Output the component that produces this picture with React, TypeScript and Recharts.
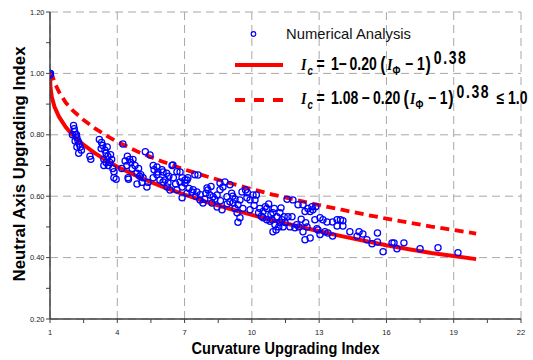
import React from 'react';
import { ComposedChart, XAxis, YAxis, CartesianGrid, Line, Scatter, Legend } from 'recharts';

const xMajorTicks = [1, 4, 7, 10, 13, 16, 19, 22];
const xTickLabels = ['1', '4', '7', '10', '13', '16', '19', '22'];
const xAllTicks = [1, 2.5, 4, 5.5, 7, 8.5, 10, 11.5, 13, 14.5, 16, 17.5, 19, 20.5, 22];
const yMajorTicks = [0.2, 0.4, 0.6, 0.8, 1.0, 1.2];
const yTickLabels = ['0.20', '0.40', '0.60', '0.80', '1.00', '1.20'];
const yAllTicks = [0.2, 0.3, 0.4, 0.5, 0.6, 0.7, 0.8, 0.9, 1.0, 1.1, 1.2];

const curveX = [1, 1.02, 1.08, 1.2, 1.4, 1.7, 2, 2.5, 3, 3.5, 4, 5, 6, 7, 8, 9, 10, 11, 12, 13, 14, 15, 16, 17, 18, 19, 20];
const proposedValues = [1.0, 0.955, 0.923, 0.891, 0.859, 0.825, 0.8, 0.767, 0.74, 0.717, 0.696, 0.661, 0.631, 0.605, 0.581, 0.559, 0.539, 0.52, 0.503, 0.486, 0.47, 0.455, 0.44, 0.427, 0.415, 0.405, 0.395];
const designValues = [1.0, 1.0, 1.0, 0.97, 0.94, 0.905, 0.88, 0.848, 0.821, 0.798, 0.777, 0.742, 0.713, 0.687, 0.664, 0.643, 0.623, 0.604, 0.587, 0.571, 0.556, 0.541, 0.527, 0.514, 0.501, 0.49, 0.478];

const numericalAnalysis: [number, number][] = [
  [1.0, 1.0], [1.02, 1.0], [1.0, 0.995],
  [2.05, 0.83], [2.08, 0.82], [2.1, 0.81], [2.0, 0.8], [2.15, 0.8], [2.2, 0.79], [2.12, 0.78], [2.25, 0.78],
  [2.3, 0.77], [2.2, 0.76], [2.35, 0.76], [2.4, 0.75], [2.28, 0.74], [2.18, 0.8], [2.78, 0.73], [2.82, 0.72],
  [3.2, 0.785], [3.3, 0.775], [3.35, 0.765], [3.28, 0.755], [3.45, 0.75], [3.5, 0.74], [3.58, 0.73], [3.4, 0.72],
  [3.5, 0.71], [3.67, 0.71], [3.75, 0.72], [3.6, 0.7], [3.4, 0.7], [3.8, 0.69], [3.85, 0.68], [3.85, 0.66],
  [3.95, 0.655], [3.7, 0.735], [3.55, 0.76], [4.25, 0.77], [4.2, 0.69], [4.35, 0.715],
  [4.45, 0.73], [4.55, 0.72], [4.43, 0.7], [4.66, 0.69], [4.79, 0.7], [4.88, 0.675], [5.0, 0.665], [4.48, 0.66],
  [4.88, 0.64], [5.1, 0.645], [5.15, 0.66], [5.25, 0.745], [5.32, 0.63], [5.37, 0.645], [4.6, 0.71], [4.7, 0.72],
  [4.95, 0.69], [4.5, 0.655], [5.05, 0.67], [5.6, 0.66],
  [5.46, 0.734], [5.6, 0.7], [5.64, 0.686], [5.77, 0.695], [5.81, 0.679], [5.77, 0.67], [5.99, 0.686], [6.04, 0.679],
  [5.9, 0.653], [6.13, 0.653], [6.04, 0.646], [6.26, 0.643], [6.22, 0.63], [6.35, 0.62], [6.44, 0.7], [6.48, 0.702],
  [6.66, 0.68], [6.66, 0.621], [6.8, 0.679], [6.8, 0.646], [6.89, 0.66], [6.89, 0.63], [7.02, 0.653], [7.02, 0.643],
  [7.11, 0.653], [7.15, 0.66], [6.5, 0.66], [6.3, 0.665], [6.6, 0.64], [6.2, 0.675],
  [7.46, 0.67], [7.6, 0.669], [6.89, 0.595], [7.11, 0.61], [7.33, 0.614], [7.38, 0.621], [7.55, 0.614], [7.5, 0.6],
  [7.69, 0.588], [7.82, 0.578], [7.9, 0.59], [8.0, 0.627], [8.04, 0.62], [8.13, 0.604], [8.18, 0.632], [8.22, 0.578],
  [8.27, 0.598], [8.45, 0.565], [8.45, 0.604], [8.58, 0.643], [8.58, 0.621], [8.67, 0.556], [8.71, 0.63], [8.8, 0.646],
  [8.89, 0.598], [9.02, 0.582], [9.02, 0.637], [9.1, 0.61], [9.16, 0.578], [9.25, 0.56], [9.25, 0.59], [9.34, 0.546],
  [9.38, 0.515], [9.38, 0.572], [9.47, 0.588], [9.47, 0.53], [9.56, 0.614], [9.6, 0.56],
  [7.2, 0.625], [7.7, 0.605], [7.95, 0.61], [8.35, 0.59], [8.6, 0.585], [8.9, 0.575], [9.15, 0.6],
  [9.78, 0.595], [9.8, 0.611], [9.72, 0.62], [9.92, 0.588], [9.92, 0.556], [10.05, 0.604], [10.14, 0.588], [10.2, 0.604],
  [10.36, 0.56], [10.3, 0.546], [10.42, 0.535], [10.5, 0.55], [10.6, 0.566], [10.67, 0.56], [10.67, 0.523], [10.75, 0.575],
  [10.81, 0.518], [10.85, 0.54], [10.9, 0.523], [10.94, 0.546], [10.94, 0.484], [11.03, 0.507], [11.08, 0.49], [11.12, 0.533],
  [11.2, 0.5], [11.25, 0.514], [11.25, 0.546], [11.3, 0.562], [11.34, 0.523], [11.39, 0.5], [11.44, 0.533], [11.48, 0.514],
  [11.57, 0.59], [11.61, 0.533], [11.7, 0.5], [11.79, 0.533], [11.83, 0.588], [10.1, 0.57], [10.5, 0.53], [11.0, 0.56],
  [11.92, 0.497], [12.0, 0.507], [12.06, 0.572], [12.1, 0.5], [12.28, 0.572], [12.28, 0.484], [12.37, 0.55], [12.46, 0.5],
  [12.4, 0.514], [12.5, 0.56], [12.6, 0.55], [12.6, 0.464], [12.68, 0.566], [12.72, 0.556], [12.81, 0.523], [12.85, 0.566],
  [12.9, 0.494], [12.95, 0.49], [13.04, 0.53], [13.04, 0.475], [13.17, 0.523], [13.26, 0.484], [13.35, 0.516], [13.39, 0.48],
  [13.6, 0.516], [13.6, 0.47], [13.8, 0.523], [13.8, 0.503], [13.95, 0.523], [14.06, 0.52], [14.06, 0.503], [12.37, 0.458],
  [12.2, 0.525],
  [14.37, 0.484], [14.69, 0.47], [14.78, 0.484], [14.95, 0.477], [15.13, 0.458], [15.36, 0.445], [15.6, 0.48],
  [15.6, 0.451], [15.85, 0.419], [16.25, 0.448], [16.34, 0.448], [16.47, 0.429], [16.78, 0.448], [17.5, 0.429],
  [18.3, 0.432], [19.19, 0.416],
];

const legendLabels = ['Numerical Analysis'];

const scatterData = numericalAnalysis.map(([x, y]) => ({ x, y }));
const proposedData = curveX.map((x, i) => ({ x, y: proposedValues[i] }));
const designData = curveX.map((x, i) => ({ x, y: designValues[i] }));

const tickFont = { fontFamily: 'Liberation Sans, Arial, sans-serif', fontSize: 7.5, fill: '#222' };

const XTick = (props: any) => {
  const { x, y, payload } = props;
  const i = xMajorTicks.indexOf(payload.value);
  if (i < 0) return <g />;
  return (
    <text x={x} y={y} dy="0.71em" textAnchor="middle" {...tickFont}>
      {xTickLabels[i]}
    </text>
  );
};

const YTick = (props: any) => {
  const { x, y, payload } = props;
  const i = yMajorTicks.indexOf(payload.value);
  if (i < 0) return <g />;
  return (
    <text x={x} y={y} dy="0.355em" textAnchor="end" {...tickFont}>
      {yTickLabels[i]}
    </text>
  );
};

const XTitle = (props: any) => {
  const vb = props.viewBox;
  return (
    <text
      x={vb.x + vb.width / 2}
      y={vb.y + 35}
      textAnchor="middle"
      fontFamily="Liberation Sans, Arial, sans-serif"
      fontWeight="bold"
      fontSize={16}
      textLength={188}
      lengthAdjust="spacingAndGlyphs"
      fill="#000"
    >
      Curvature Upgrading Index
    </text>
  );
};

const YTitle = (props: any) => {
  const vb = props.viewBox;
  const cx = 25;
  const cy = vb.y + vb.height / 2 - 1.5;
  return (
    <text
      x={cx}
      y={cy}
      transform={`rotate(-90 ${cx} ${cy})`}
      textAnchor="middle"
      fontFamily="Liberation Sans, Arial, sans-serif"
      fontWeight="bold"
      fontSize={16.5}
      textLength={235}
      lengthAdjust="spacingAndGlyphs"
      fill="#000"
    >
      Neutral Axis Upgrading Index
    </text>
  );
};

const eqFont = 'Liberation Sans, Arial, sans-serif';
const iFont = 'Liberation Serif, Times New Roman, serif';
const EQ = 17.5;
const SUB = 12;
const PAR = 20;

const renderLegend = () => (
  <svg width={533} height={120} style={{ display: 'block' }}>
    <circle cx={253.5} cy={34} r={2.3} fill="none" stroke="#0000ff" strokeWidth={1.2} />
    <text x={286} y={39} fontFamily={eqFont} fontSize={15} textLength={125} lengthAdjust="spacingAndGlyphs" fill="#111">
      {legendLabels[0]}
    </text>
    <line x1={235} y1={65} x2={283} y2={65} stroke="#ff0000" strokeWidth={4} />
    <g transform="translate(301 70) scale(0.8 1)">
      <text x={0} y={0} fontFamily={eqFont} fontWeight="bold" fontSize={EQ} fill="#000">
        <tspan x={0} fontFamily={iFont} fontStyle="italic">I</tspan>
        <tspan x={8.1} dy={5} fontSize={SUB} fontStyle="italic">c</tspan>
        <tspan x={19.4} dy={-5}>=</tspan>
        <tspan x={37.5}>1</tspan>
        <tspan x={47}>−</tspan>
        <tspan x={60.6}>0.20</tspan>
        <tspan x={99} dy={1} fontSize={PAR}>(</tspan>
        <tspan x={107.5} dy={-1} fontFamily={iFont} fontStyle="italic">I</tspan>
        <tspan x={114.4} dy={5} fontSize={SUB}>Φ</tspan>
        <tspan x={130} dy={-5}>−</tspan>
        <tspan x={145}>1</tspan>
        <tspan x={155.5} dy={1} fontSize={PAR}>)</tspan>
        <tspan x={166} dy={-7} letterSpacing={2}>0.38</tspan>
      </text>
    </g>
    <line x1={235} y1={100} x2={283} y2={100} stroke="#ff0000" strokeWidth={4} strokeDasharray="10 9" />
    <g transform="translate(301 104) scale(0.8 1)">
      <text x={0} y={0} fontFamily={eqFont} fontWeight="bold" fontSize={EQ} fill="#000">
        <tspan x={0} fontFamily={iFont} fontStyle="italic">I</tspan>
        <tspan x={8.1} dy={5} fontSize={SUB} fontStyle="italic">c</tspan>
        <tspan x={19.4} dy={-5}>=</tspan>
        <tspan x={37.5}>1.08</tspan>
        <tspan x={75.6}>−</tspan>
        <tspan x={90}>0.20</tspan>
        <tspan x={128} dy={1} fontSize={PAR}>(</tspan>
        <tspan x={136.3} dy={-1} fontFamily={iFont} fontStyle="italic">I</tspan>
        <tspan x={143.1} dy={5} fontSize={SUB}>Φ</tspan>
        <tspan x={158.8} dy={-5}>−</tspan>
        <tspan x={173.5}>1</tspan>
        <tspan x={184} dy={1} fontSize={PAR}>)</tspan>
        <tspan x={194.5} dy={-7} letterSpacing={2}>0.38</tspan>
        <tspan x={244.4} dy={6}>≤</tspan>
        <tspan x={258.8}>1.0</tspan>
      </text>
    </g>
  </svg>
);

export default function App() {
  return (
    <div style={{ position: 'absolute', left: 0, top: 0, width: 533, height: 360, overflow: 'hidden', background: '#fff' }}>
      <ComposedChart width={533} height={360} margin={{ top: 12, right: 12, bottom: 0, left: 0 }}>
        <CartesianGrid
          stroke="#a8a8a8"
          strokeDasharray="8 5"
          horizontalValues={yMajorTicks}
          verticalValues={xMajorTicks}
        />
        <XAxis
          type="number"
          dataKey="x"
          domain={[1, 22]}
          ticks={xAllTicks}
          interval={0}
          height={41}
          tickSize={4}
          tickMargin={7}
          tick={<XTick />}
          axisLine={{ stroke: '#404040', strokeWidth: 1.5 }}
          tickLine={{ stroke: '#404040' }}
          label={<XTitle />}
          allowDataOverflow
        />
        <YAxis
          type="number"
          dataKey="y"
          domain={[0.2, 1.2]}
          ticks={yAllTicks}
          interval={0}
          width={50}
          tickSize={4}
          tickMargin={1.5}
          tick={<YTick />}
          axisLine={{ stroke: '#404040', strokeWidth: 1.5 }}
          tickLine={{ stroke: '#404040' }}
          label={<YTitle />}
          allowDataOverflow
        />
        <Line
          data={proposedData}
          dataKey="y"
          type="linear"
          stroke="#ff0000"
          strokeWidth={4}
          dot={false}
          activeDot={false}
          isAnimationActive={false}
        />
        <Line
          data={designData}
          dataKey="y"
          type="linear"
          stroke="#ff0000"
          strokeWidth={3.8}
          strokeDasharray="9 5.5"
          dot={false}
          activeDot={false}
          isAnimationActive={false}
        />
        <Scatter
          data={scatterData}
          dataKey="y"
          isAnimationActive={false}
          shape={(p: any) => (
            <circle cx={p.cx} cy={p.cy} r={3.1} fill="none" stroke="#0000ff" strokeWidth={1.25} />
          )}
        />
        <Legend
          content={renderLegend}
          layout="horizontal"
          verticalAlign="middle"
          align="center"
          wrapperStyle={{ position: 'absolute', left: 0, top: 0, width: 533, height: 120, pointerEvents: 'none' }}
        />
      </ComposedChart>
    </div>
  );
}
